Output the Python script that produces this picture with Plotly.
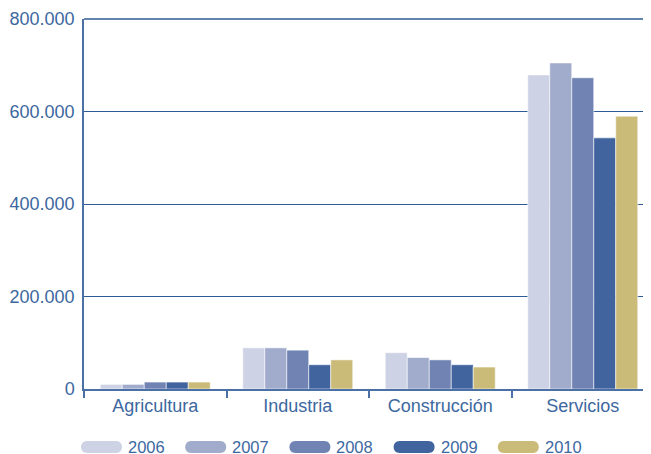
import plotly.graph_objects as go

categories = ["Agricultura", "Industria", "Construcción", "Servicios"]
years = ["2006", "2007", "2008", "2009", "2010"]
v2006 = [10000, 89000, 78500, 679000]
v2007 = [10000, 89000, 68000, 705000]
v2008 = [15000, 84000, 63000, 673000]
v2009 = [15000, 52500, 52500, 543000]
v2010 = [15000, 63000, 47500, 590000]
series = [v2006, v2007, v2008, v2009, v2010]
colors = ["#cdd2e4", "#a1abcc", "#7083b2", "#41649f", "#cbbb78"]

TXT = "#3d68a0"
FONT = "Liberation Sans, Arial, sans-serif"

fig = go.Figure()
for yr, vals, col in zip(years, series, colors):
    fig.add_trace(go.Bar(x=categories, y=vals, name=yr, marker_color=col,
                         marker_line=dict(width=0.8, color="rgba(255,255,255,0.7)"),
                         showlegend=False))

# top border line at the 800.000 level
fig.add_shape(type="line", xref="paper", yref="paper", x0=0, x1=1, y0=1, y1=1,
              line=dict(color="#2e5b95", width=1.5), layer="below")

# custom legend with rounded swatches
for i, (yr, col) in enumerate(zip(years, colors)):
    cx = (101.5 + 104.2 * i - 84) / 567.0
    r = 6
    w = 20.5
    path = (f"M {-w+r},{-r} L {w-r},{-r} C {w-r+r*1.33},{-r} {w-r+r*1.33},{r} {w-r},{r} "
            f"L {-w+r},{r} C {-w+r-r*1.33},{r} {-w+r-r*1.33},{-r} {-w+r},{-r} Z")
    fig.add_shape(type="path", xref="paper", yref="paper", xsizemode="pixel", ysizemode="pixel",
                  xanchor=cx, yanchor=(389 - 447) / 370.0, path=path,
                  fillcolor=col, line=dict(width=0))
    fig.add_annotation(x=(127 + 104.2 * i - 84) / 567.0, y=(389 - 446.5) / 370.0,
                       xref="paper", yref="paper", text=yr, showarrow=False,
                       xanchor="left", yanchor="middle", borderpad=0,
                       font=dict(family=FONT, size=16.5, color=TXT))

# page body has an 8px margin, so the figure is sized/offset to compensate
fig.update_layout(
    width=643, height=446,
    margin=dict(l=76, r=0, t=11, b=65),
    plot_bgcolor="white", paper_bgcolor="white",
    barmode="group", bargap=0.228, bargroupgap=0,
    separators=",.",
    font=dict(family=FONT, color=TXT, size=18),
)
fig.update_xaxes(range=[-0.5, 3.5 - 3 / 142.5], showline=True, linecolor="#4a70a6", linewidth=1.5,
                 ticks="outside", tickson="boundaries", ticklen=7, tickcolor="#4a70a6", tickwidth=1.5,
                 showgrid=False, automargin=False,
                 tickfont=dict(size=18, color=TXT, family=FONT))
fig.update_yaxes(range=[0, 800000], tickvals=[0, 200000, 400000, 600000, 800000], tickformat=",d",
                 showgrid=True, gridcolor="#2e5b95", gridwidth=1,
                 showline=True, linecolor="#4a70a6", linewidth=1.5, zeroline=False,
                 ticks="", ticklabelstandoff=4, automargin=False,
                 tickfont=dict(size=18, color=TXT, family=FONT))
fig.write_html("out.html")
